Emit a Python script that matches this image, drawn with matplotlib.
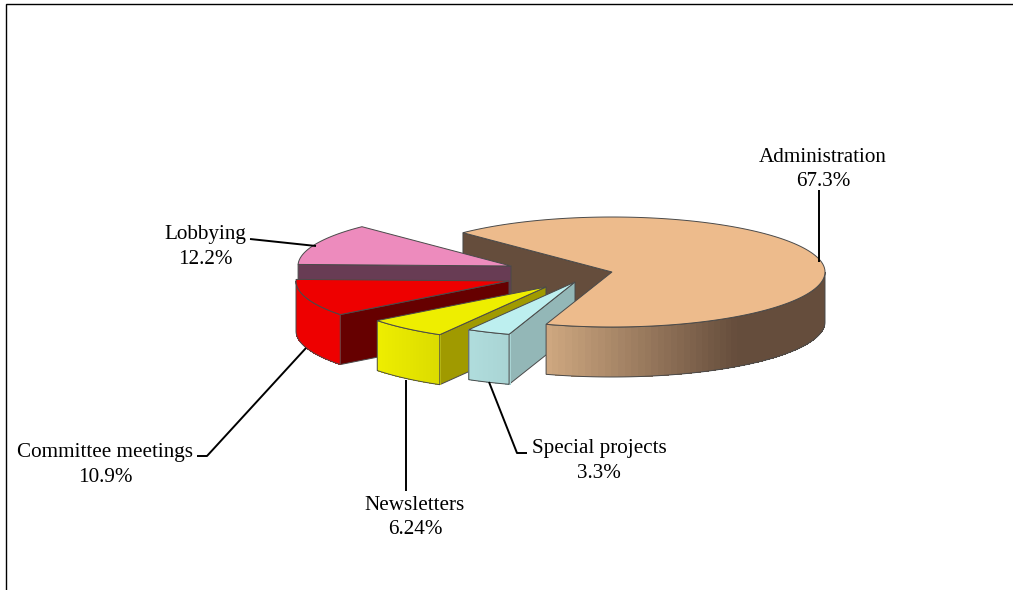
import numpy as np
import matplotlib
matplotlib.use("Agg")
import matplotlib.pyplot as plt
from matplotlib.colors import to_rgb
from matplotlib.patches import Polygon

# Data, clockwise from the back-left edge of the largest slice
categories = ["Administration", "Special projects", "Newsletters", "Committee meetings", "Lobbying"]
values = [67.3, 3.3, 6.24, 10.9, 12.2]

# Styles
top_colors = ["#edbb8c", "#bdefef", "#eeee00", "#ee0000", "#ed8bbd"]
face_colors = ["#654d3c", "#93b7b7", "#a09a00", "#660000", "#683c54"]
wall_left = ["#d0a981", "#b0dddd", "#eeee00", "#ee0000", "#683c54"]
wall_right = ["#654d3c", "#a9d4d4", "#dcdc00", "#ee0000", "#683c54"]
grad_end_x = [738, None, None, None, None]
centers = [(612, 272), (575, 282), (546, 287), (509, 281), (511, 266)]
label_pos = [(823, 157), (599, 448), (415, 505), (105, 452), (205, 234)]
leaders = [
    [(819, 190), (819, 262)],
    [(489, 382), (517, 453), (527, 453)],
    [(406, 380), (406, 491)],
    [(306, 348), (207, 456), (197, 456)],
    [(316, 246), (250, 239)],
]
draw_order = [4, 3, 2, 1]

A, B, DEPTH = 213, 55, 50
START = 134.4
EDGE = "#4a4a4a"

fig = plt.figure(figsize=(10.13, 5.90), dpi=100)
ax = fig.add_axes([0, 0, 1, 1])
ax.set_xlim(0, 1013)
ax.set_ylim(590, 0)
ax.axis("off")

# Frame lines at top and left
ax.plot([6, 6, 1013], [590, 4, 4], color="black", lw=1, zorder=1, solid_joinstyle="miter")


def pt(c, deg, dz=0.0):
    t = np.radians(deg)
    return np.array([c[0] + A * np.cos(t), c[1] - B * np.sin(t) + dz])


def arc(c, a0, a1, dz=0.0, n=120):
    return np.array([pt(c, d, dz) for d in np.linspace(a0, a1, n)])


def draw_face(c, deg, col, z):
    p = pt(c, deg)
    verts = [c, tuple(p), (p[0], p[1] + DEPTH), (c[0], c[1] + DEPTH)]
    ax.add_patch(Polygon(verts, closed=True, fc=col, ec=EDGE, lw=0.7, zorder=z))


def draw_wall(c, a0, a1, cl, cr, end_x, z):
    lo, hi = max(a0, 180), min(a1, 360)
    if hi <= lo:
        return
    cl, cr = np.array(to_rgb(cl)), np.array(to_rgb(cr))
    xstart = pt(c, lo)[0]
    xend = end_x if end_x else pt(c, hi)[0]
    edges = np.linspace(lo, hi, 61)
    outline = np.vstack([arc(c, lo, hi), arc(c, hi, lo, DEPTH)])
    ax.add_patch(Polygon(outline, closed=True, fc=cr, ec="none", zorder=z - 0.05))
    for d0, d1 in zip(edges[:-1], edges[1:]):
        top = arc(c, d0, d1 + 0.3, 0, 4)
        bot = arc(c, d1 + 0.3, d0, DEPTH, 4)
        xm = 0.5 * (top[0, 0] + top[-1, 0])
        f = np.clip((xm - xstart) / (xend - xstart), 0, 1)
        col = cl + (cr - cl) * f
        ax.add_patch(Polygon(np.vstack([top, bot]), closed=True, fc=col, ec="none",
                             antialiased=False, zorder=z))
    ax.add_patch(Polygon(outline, closed=True, fill=False, ec=EDGE, lw=0.7, zorder=z + 0.1))


def draw_top(c, a0, a1, col, z):
    verts = np.vstack([[c], arc(c, a0, a1, 0, 240)])
    ax.add_patch(Polygon(verts, closed=True, fc=col, ec=EDGE, lw=0.7, zorder=z))


# Angles from the values, running clockwise
total = sum(values)
spans = [v / total * 360 for v in values]
hi_angles = [START + 360 - sum(spans[:i]) for i in range(len(values))]
lo_angles = [h - s for h, s in zip(hi_angles, spans)]

# Back wall of the largest slice sits behind every other slice
draw_face(centers[0], hi_angles[0], face_colors[0], 2)

z = 3
for i in draw_order:
    draw_face(centers[i], hi_angles[i], face_colors[i], z)
    draw_wall(centers[i], lo_angles[i], hi_angles[i], wall_left[i], wall_right[i], grad_end_x[i], z + 0.2)
    draw_top(centers[i], lo_angles[i], hi_angles[i], top_colors[i], z + 0.5)
    z += 1

draw_wall(centers[0], lo_angles[0], hi_angles[0], wall_left[0], wall_right[0], grad_end_x[0], z)
draw_top(centers[0], lo_angles[0], hi_angles[0], top_colors[0], z + 0.5)

# Leader lines and labels
for pts in leaders:
    xs, ys = zip(*pts)
    ax.plot(xs, ys, color="black", lw=1.4, zorder=z + 1, solid_capstyle="butt")

for cat, val, (x, y) in zip(categories, values, label_pos):
    ax.text(x, y, cat, family="Liberation Serif", fontsize=15.2, ha="center", va="center", color="black", zorder=z + 2)
    ax.text(x, y + 25, f"{val}%", family="Liberation Serif", fontsize=15.2, ha="center", va="center", color="black", zorder=z + 2)

fig.savefig("out.png", dpi=100, facecolor="white")
